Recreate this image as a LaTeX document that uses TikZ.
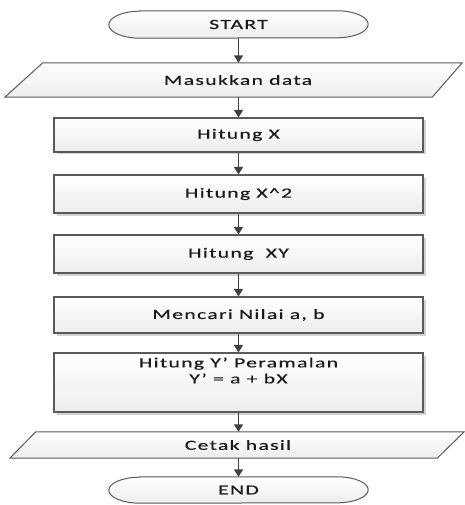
\documentclass[tikz,border=0pt]{standalone}
\usepackage{fontspec}
\usepackage{graphicx}
\setmainfont[LetterSpace=6,FakeBold=0.3]{Carlito}
\usetikzlibrary{arrows.meta,shadows,calc}
\definecolor{edge}{HTML}{5A5A5A}
\definecolor{arr}{HTML}{404040}
\definecolor{txt}{HTML}{1A1A1A}
\newcommand{\tx}[1]{\scalebox{1.55}[1]{#1}}
\tikzset{
  lbl/.style={font=\fontsize{14}{16}\selectfont, text=txt, inner sep=0pt},
  procbox/.style={lbl, draw=edge, line width=1.1pt, top color=white, bottom color=gray!14,
     minimum width=369pt, drop shadow={shadow xshift=2.5pt, shadow yshift=-2.5pt, fill=gray!35, opacity=1}},
  ghost/.style={lbl, draw=none},
  shapeline/.style={draw=edge, line width=1pt, top color=white, bottom color=gray!14},
  flow/.style={draw=arr, line width=1.5pt, -{Triangle[width=9pt,length=7.5pt]}}
}
\begin{document}
\begin{tikzpicture}[x=1pt,y=-1pt]
\useasboundingbox (0,0) rectangle (464,505);

% START terminator
\node[ghost, minimum width=259pt, minimum height=27pt] (start) at (238.5,24.5) {};
\path[shapeline] ([xshift=31pt]start.north west) -- ([xshift=-31pt]start.north east)
  arc[start angle=90,end angle=-90,x radius=31pt,y radius=13.5pt]
  -- ([xshift=31pt]start.south west)
  arc[start angle=270,end angle=90,x radius=31pt,y radius=13.5pt] -- cycle;
\node[lbl] at (start) {\tx{START}};

% input parallelogram
\node[ghost, minimum width=457pt, minimum height=34pt] (inp) at (233.5,80) {};
\path[shapeline] (inp.south west) -- ([xshift=-30pt]inp.south east) -- (inp.north east)
  -- ([xshift=38pt]inp.north west) -- cycle;
\node[lbl] at (238,80) {\tx{Masukkan data}};

% process boxes
\node[procbox, minimum height=34pt] (hx) at (238.5,135) {\tx{Hitung X}};
\node[procbox, minimum height=38pt] (hx2) at (238.5,194) {\tx{Hitung X\^{}2}};
\node[procbox, minimum height=38pt] (hxy) at (238.5,254) {\tx{Hitung\ \ XY}};
\node[procbox, minimum height=36pt] (nilai) at (238.5,315) {\tx{Mencari Nilai a, b}};
\node[procbox, minimum height=59pt] (yp) at (238.5,382.5) {};
\node[lbl, align=center] at (238.5,370.5) {\tx{Hitung Y’ Peramalan}\\\tx{Y’ = a + bX}};

% output parallelogram
\node[ghost, minimum width=454pt, minimum height=26pt] (outp) at (237,445) {};
\path[shapeline] (outp.south west) -- ([xshift=-27pt]outp.south east) -- (outp.north east)
  -- ([xshift=26pt]outp.north west) -- cycle;
\node[lbl] at (238,445) {\tx{Cetak hasil}};

% END terminator
\node[ghost, minimum width=259pt, minimum height=26pt] (end) at (238.5,490) {};
\path[shapeline] ([xshift=31pt]end.north west) -- ([xshift=-31pt]end.north east)
  arc[start angle=90,end angle=-90,x radius=31pt,y radius=13pt]
  -- ([xshift=31pt]end.south west)
  arc[start angle=270,end angle=90,x radius=31pt,y radius=13pt] -- cycle;
\node[lbl] at (end) {\tx{END}};

% connectors
\draw[flow] (start.south) -- (inp.north -| start.south);
\draw[flow] (inp.south -| start.south) -- (hx.north);
\draw[flow] (hx.south) -- (hx2.north);
\draw[flow] (hx2.south) -- (hxy.north);
\draw[flow] (hxy.south) -- (nilai.north);
\draw[flow] (nilai.south) -- (yp.north);
\draw[flow] (yp.south) -- (outp.north -| yp.south);
\draw[flow] (outp.south -| yp.south) -- (end.north);
\end{tikzpicture}
\end{document}
